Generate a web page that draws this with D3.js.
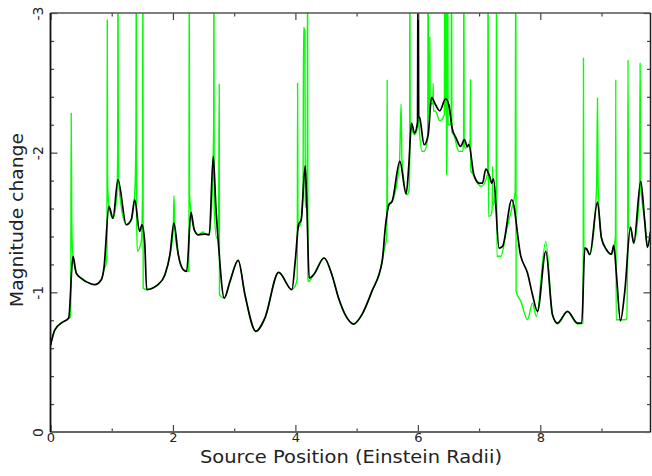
<!DOCTYPE html>
<html>
<head>
<meta charset="utf-8">
<script src="https://cdn.jsdelivr.net/npm/d3@7"></script>
<style>
  html, body { margin: 0; padding: 0; background: #fff; }
  svg { display: block; }
  text { font-family: "DejaVu Sans", "Liberation Sans", sans-serif; fill: #222; }
</style>
</head>
<body>
<svg id="chart" width="652" height="476"></svg>
<script>
// ---- Data ----
const xMajorTicks = [0, 2, 4, 6, 8];
const xMinorTicks = [1, 3, 5, 7, 9];
const yMajorTicks = [0, -1, -2, -3];
const yTickLabels = ["0", "-1", "-2", "-3"];
const xTitle = "Source Position (Einstein Radii)";
const yTitle = "Magnitude change";

// extended source (black)
const extX = [0,0.069,0.176,0.297,0.367,0.421,0.503,0.666,0.722,0.829,0.873,0.955,1.020,1.102,1.238,1.319,1.375,1.456,1.494,1.538,1.571,1.755,1.869,1.951,2.016,2.087,2.168,2.224,2.294,2.348,2.413,2.522,2.593,2.658,2.702,2.740,2.838,2.931,3.066,3.176,3.355,3.502,3.726,3.943,3.997,4.052,4.095,4.160,4.188,4.225,4.297,4.470,4.596,4.705,4.813,4.950,5.086,5.249,5.417,5.473,5.527,5.580,5.706,5.809,5.853,5.897,5.946,5.995,6.003,6.010,6.030,6.103,6.169,6.224,6.289,6.359,6.452,6.506,6.560,6.625,6.697,6.762,6.805,6.833,6.914,6.947,6.996,7.056,7.110,7.164,7.208,7.236,7.327,7.383,7.535,7.682,7.791,7.873,7.954,8.090,8.199,8.281,8.444,8.607,8.678,8.727,8.754,8.808,8.934,8.999,9.081,9.162,9.200,9.244,9.309,9.380,9.473,9.527,9.641,9.706,9.750,9.800];
const extMag = [-0.62,-0.73,-0.78,-0.816,-1.258,-1.138,-1.10,-1.06,-1.055,-1.09,-1.174,-1.616,-1.53,-1.806,-1.484,-1.52,-1.663,-1.437,-1.484,-1.365,-1.02,-1.055,-1.126,-1.27,-1.496,-1.27,-1.162,-1.15,-1.572,-1.448,-1.412,-1.417,-1.412,-1.974,-1.603,-1.365,-0.959,-1.078,-1.229,-0.983,-0.721,-0.816,-1.143,-1.019,-1.222,-1.484,-1.52,-1.906,-1.603,-1.102,-1.126,-1.246,-1.126,-0.959,-0.84,-0.773,-0.84,-1.007,-1.222,-1.484,-1.627,-1.651,-1.938,-1.704,-1.913,-2.212,-2.14,-2.22,-3.5,-2.26,-2.25,-2.057,-2.128,-2.396,-2.343,-2.30,-2.386,-2.343,-2.176,-2.105,-2.045,-2.093,-2.045,-2.057,-1.842,-1.806,-1.782,-1.782,-1.882,-1.842,-1.782,-1.813,-1.317,-1.329,-1.663,-1.258,-1.138,-0.983,-0.864,-1.294,-0.84,-0.78,-0.864,-0.78,-0.78,-1.317,-1.312,-1.27,-1.646,-1.389,-1.305,-1.274,-1.336,-1.126,-0.797,-1.007,-1.467,-1.353,-1.795,-1.508,-1.322,-1.437];

// point source (green)
const ptX = [0,0.069,0.176,0.313,0.330,0.338,0.347,0.36,0.421,0.503,0.666,0.722,0.829,0.88,0.911,0.922,0.927,0.933,0.955,1.020,1.085,1.097,1.102,1.108,1.12,1.238,1.319,1.375,1.395,1.401,1.405,1.418,1.483,1.503,1.510,1.514,1.571,1.755,1.869,1.951,2.005,2.016,2.03,2.087,2.168,2.224,2.258,2.262,2.266,2.272,2.294,2.348,2.413,2.495,2.522,2.593,2.64,2.665,2.669,2.674,2.713,2.745,2.756,2.760,2.821,2.838,2.931,3.066,3.176,3.355,3.502,3.726,3.943,3.99,4.030,4.036,4.042,4.069,4.095,4.125,4.134,4.155,4.162,4.176,4.195,4.199,4.204,4.216,4.297,4.470,4.596,4.705,4.813,4.950,5.086,5.249,5.417,5.445,5.493,5.499,5.505,5.527,5.580,5.70,5.726,5.74,5.825,5.853,5.865,5.869,5.875,5.897,5.946,6.005,6.012,6.02,6.07,6.103,6.160,6.169,6.175,6.19,6.196,6.202,6.245,6.250,6.256,6.289,6.359,6.432,6.441,6.452,6.462,6.470,6.478,6.486,6.495,6.545,6.550,6.556,6.588,6.669,6.735,6.747,6.751,6.757,6.779,6.816,6.855,6.860,6.866,6.914,6.960,7.037,7.14,7.148,7.153,7.192,7.215,7.220,7.226,7.28,7.285,7.290,7.355,7.45,7.535,7.59,7.600,7.605,7.682,7.791,7.873,7.935,8.090,8.199,8.281,8.444,8.607,8.700,8.705,8.712,8.754,8.808,8.92,8.934,8.945,8.999,9.081,9.162,9.228,9.233,9.238,9.380,9.41,9.425,9.433,9.44,9.473,9.527,9.62,9.630,9.64,9.706,9.750,9.800];
const ptMag = [-0.62,-0.73,-0.78,-0.82,-0.83,-2.283,-1.55,-1.30,-1.138,-1.10,-1.06,-1.055,-1.09,-1.17,-1.21,-1.3,-2.951,-1.8,-1.616,-1.53,-1.70,-2.0,-3.5,-2.0,-1.75,-1.484,-1.52,-1.70,-2.1,-3.5,-1.6,-1.294,-1.365,-1.7,-3.5,-1.03,-1.02,-1.055,-1.126,-1.27,-1.45,-1.692,-1.45,-1.27,-1.162,-1.15,-1.15,-1.4,-3.5,-1.7,-1.58,-1.448,-1.412,-1.432,-1.417,-1.412,-1.7,-2.2,-3.5,-1.6,-1.389,-1.5,-2.491,-0.983,-0.96,-0.959,-1.078,-1.229,-0.983,-0.721,-0.816,-1.143,-1.02,-1.04,-1.1,-2.498,-1.5,-1.472,-1.52,-1.8,-2.897,-2.868,-1.65,-1.603,-2.0,-3.5,-1.09,-1.078,-1.126,-1.246,-1.126,-0.959,-0.84,-0.773,-0.84,-1.007,-1.222,-1.294,-1.40,-2.522,-1.62,-1.627,-1.651,-1.93,-2.348,-1.95,-1.699,-1.72,-1.85,-3.5,-2.2,-2.17,-2.128,-2.2,-3.5,-2.2,-2.009,-2.01,-2.1,-3.5,-2.25,-2.3,-2.832,-2.35,-2.35,-2.498,-2.3,-2.296,-2.229,-2.27,-3.5,-2.3,-3.5,-1.85,-1.842,-3.5,-2.2,-2.2,-3.5,-2.15,-2.128,-2.009,-2.009,-2.1,-3.5,-2.05,-2.033,-2.04,-2.1,-2.522,-1.866,-1.842,-1.795,-1.759,-1.85,-3.5,-1.544,-1.55,-1.6,-1.902,-1.62,-1.75,-3.5,-1.258,-1.258,-1.45,-1.603,-1.72,-3.5,-1.007,-0.936,-0.804,-0.923,-0.828,-1.365,-0.84,-0.773,-0.86,-0.773,-0.78,-2.677,-1.32,-1.312,-1.27,-1.75,-2.391,-1.75,-1.389,-1.305,-1.27,-1.4,-2.522,-0.804,-0.804,-0.81,-1.2,-2.665,-1.46,-1.46,-1.353,-1.7,-2.641,-1.78,-1.508,-1.33,-1.43];

// ---- Chart ----
const svg = d3.select("#chart");
const mLeft = 50.5, mRight = 650.5, mTop = 13, mBottom = 432;
const x = d3.scaleLinear().domain([0, 9.8]).range([mLeft, mRight]);
const y = d3.scaleLinear().domain([0, -3]).range([mBottom, mTop]);

svg.append("defs").append("clipPath").attr("id", "plotclip")
  .append("rect").attr("x", mLeft).attr("y", mTop).attr("width", mRight - mLeft).attr("height", mBottom - mTop);

const line = d3.line().x(d => x(d[0])).y(d => y(d[1])).curve(d3.curveMonotoneX);
const ptData = ptX.map((v, i) => [v, ptMag[i]]);
const extData = extX.map((v, i) => [v, extMag[i]]);

const plot = svg.append("g").attr("clip-path", "url(#plotclip)");
plot.append("path").datum(ptData).attr("d", line)
  .attr("fill", "none").attr("stroke", "#00ff00").attr("stroke-width", 1.4).attr("stroke-linejoin", "round");
plot.append("path").datum(extData).attr("d", line)
  .attr("fill", "none").attr("stroke", "#000").attr("stroke-width", 1.7).attr("stroke-linejoin", "round");

// axes with inward ticks
const axisColor = "#444";
function styleAxis(g) {
  g.select(".domain").remove();
  g.selectAll(".tick line").attr("stroke", axisColor).attr("stroke-width", 1.2);
}
const yMinor = d3.range(1, 15).map(i => -0.2 * i).filter(v => Math.abs(v - Math.round(v)) > 1e-6);

// bottom
const gb = svg.append("g").attr("transform", `translate(0,${mBottom})`)
  .call(d3.axisBottom(x).tickValues(xMajorTicks).tickSize(-7).tickFormat(d3.format("d")));
styleAxis(gb);
gb.selectAll(".tick text").attr("font-size", 13).attr("fill", "#222").attr("y", 10).attr("dy", 0);
const gbm = svg.append("g").attr("transform", `translate(0,${mBottom})`)
  .call(d3.axisBottom(x).tickValues(xMinorTicks).tickSize(-3.5).tickFormat(""));
styleAxis(gbm);
// top
const gt = svg.append("g").attr("transform", `translate(0,${mTop})`)
  .call(d3.axisTop(x).tickValues(xMajorTicks).tickSize(-7).tickFormat(""));
styleAxis(gt);
const gtm = svg.append("g").attr("transform", `translate(0,${mTop})`)
  .call(d3.axisTop(x).tickValues(xMinorTicks).tickSize(-3.5).tickFormat(""));
styleAxis(gtm);
// left
const gl = svg.append("g").attr("transform", `translate(${mLeft},0)`)
  .call(d3.axisLeft(y).tickValues(yMajorTicks).tickSize(-7).tickFormat((d, i) => yTickLabels[i]));
styleAxis(gl);
gl.selectAll(".tick text").attr("font-size", 14).attr("fill", "#222")
  .attr("text-anchor", "middle").attr("x", 0).attr("dy", 0)
  .attr("transform", "translate(-8,0) rotate(-90)");
const glm = svg.append("g").attr("transform", `translate(${mLeft},0)`)
  .call(d3.axisLeft(y).tickValues(yMinor).tickSize(-3.5).tickFormat(""));
styleAxis(glm);
// right
const gr = svg.append("g").attr("transform", `translate(${mRight},0)`)
  .call(d3.axisRight(y).tickValues(yMajorTicks).tickSize(-7).tickFormat(""));
styleAxis(gr);
const grm = svg.append("g").attr("transform", `translate(${mRight},0)`)
  .call(d3.axisRight(y).tickValues(yMinor).tickSize(-3.5).tickFormat(""));
styleAxis(grm);

// frame
svg.append("line").attr("x1", mLeft).attr("x2", mRight).attr("y1", mBottom).attr("y2", mBottom).attr("stroke", "#666").attr("stroke-width", 2);
svg.append("line").attr("x1", mLeft).attr("x2", mRight).attr("y1", mTop).attr("y2", mTop).attr("stroke", "#555").attr("stroke-width", 1.5);
svg.append("line").attr("x1", mLeft).attr("x2", mLeft).attr("y1", mTop).attr("y2", mBottom).attr("stroke", "#111").attr("stroke-width", 1.8);
svg.append("line").attr("x1", mRight).attr("x2", mRight).attr("y1", mTop).attr("y2", mBottom).attr("stroke", "#222").attr("stroke-width", 1.5);

// titles
svg.append("text").attr("x", 351).attr("y", 463).attr("text-anchor", "middle")
  .attr("font-size", 17).attr("fill", "#333")
  .attr("textLength", 302).attr("lengthAdjust", "spacingAndGlyphs").text(xTitle);
svg.append("text").attr("transform", "translate(23,220) rotate(-90)").attr("text-anchor", "middle")
  .attr("font-size", 18).attr("fill", "#333")
  .attr("textLength", 174).attr("lengthAdjust", "spacingAndGlyphs").text(yTitle);
</script>
</body>
</html>
